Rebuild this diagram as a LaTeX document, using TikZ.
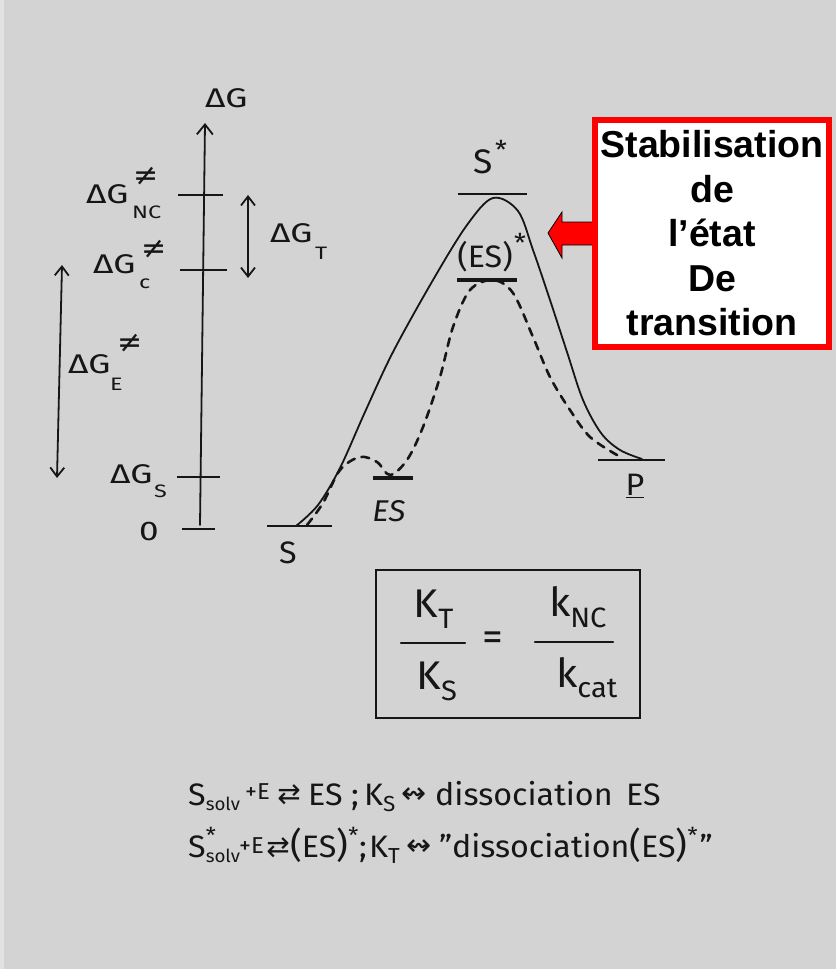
\documentclass[tikz,border=0pt]{standalone}
\usepackage{fontspec}
\setmainfont{Fira Sans}[FakeStretch=1.04]
\newfontfamily\widehand{Fira Sans}[FakeStretch=1.3]
\newfontfamily\symfont{DejaVu Sans}
\newfontfamily\arialfont{Liberation Sans}
\usetikzlibrary{arrows.meta}
\definecolor{bgc}{RGB}{211,211,211}
\definecolor{stripc}{RGB}{226,226,226}
\definecolor{ink}{RGB}{22,22,22}
\newcommand{\lowsub}[2][-5pt]{\raisebox{#1}{\fontsize{18}{18}\selectfont #2}}
\newcommand{\hstar}{\raisebox{14pt}{\fontsize{22}{22}\selectfont *}}
\newcommand{\bigpar}[1]{{\fontsize{35}{35}\selectfont #1}}
\begin{document}
\begin{tikzpicture}[x=1pt,y=-1pt,
  pen/.style={draw=ink, line width=1.8pt, line cap=round},
  lvl/.style={draw=ink, line width=1.6pt},
  thicklvl/.style={draw=ink, line width=3.2pt},
  dashpen/.style={draw=ink, line width=2.6pt, dash pattern=on 8pt off 7pt, line cap=round},
  axlab/.style={font=\widehand\fontsize{27}{30}\selectfont, inner sep=0pt, text=ink},
  axscr/.style={font=\widehand\fontsize{18}{20}\selectfont, inner sep=0pt, text=ink},
  neqs/.style={font=\symfont\fontsize{30}{30}\selectfont, inner sep=0pt, text=ink},
  hand/.style={font=\fontsize{31}{34}\selectfont, inner sep=0pt, text=ink},
  small/.style={font=\fontsize{23}{25}\selectfont, inner sep=0pt, text=ink},
  arr/.style={font=\symfont\fontsize{28}{28}\selectfont, inner sep=0pt, text=ink},
  barb/.style={-{Straight Barb[length=10pt,width=16pt,line width=1.8pt]}},
  dbarb/.style={{Straight Barb[length=9pt,width=14pt,line width=1.8pt]}-{Straight Barb[length=9pt,width=14pt,line width=1.8pt]}}
]
\useasboundingbox (0,0) rectangle (836,969);
\fill[bgc] (0,0) rectangle (836,969);
\fill[stripc] (0,0) rectangle (4,969);

% ---------- energy axis ----------
\coordinate (ax0) at (200,525);
\coordinate (axT) at (205,123);
\draw[pen, barb] (ax0) -- (axT);
\node[axlab, anchor=base west] (lG) at (205,107) {ΔG};

\draw[lvl] (178,195) -- (223,195);
\draw[lvl] (180,270) -- (227,270);
\draw[lvl] (177,477) -- (220,477);
\draw[lvl] (182,529) -- (215,529);

\node[axlab, anchor=base west] (lNC) at (86,203) {ΔG};
\node[neqs] (lNCa) at (146,176) {≠};
\node[axscr, anchor=base west] (lNCb) at (132,218) {NC};

\node[axlab, anchor=base west] (lC) at (93,273) {ΔG};
\node[neqs] (lCa) at (154,249) {≠};
\node[axscr, anchor=base west] (lCb) at (139,288) {c};

\node[axlab, anchor=base west] (lE) at (68,373) {ΔG};
\node[neqs] (lEa) at (130,343) {≠};
\node[axscr, anchor=base west] (lEb) at (110,390) {E};

\node[axlab, anchor=base west] (lS) at (110,483) {ΔG};
\node[axscr, anchor=base west] (lSb) at (154,497) {S};

\node[axlab, anchor=base west] (l0) at (139,540) {0};

\coordinate (eT) at (62,265);
\coordinate (eB) at (57,478);
\draw[pen, dbarb] (eT) -- (eB);
\coordinate (tT) at (248,195);
\coordinate (tB) at (248,278);
\draw[pen, dbarb] (tT) -- (tB);
\node[axlab, anchor=base west] (lT) at (270,242) {ΔG};
\node[axscr, anchor=base west] (lTb) at (315,259) {T};

% ---------- reaction profile ----------
\draw[lvl] (267,526) -- (332,526);
\node[hand] (nS) at (288,553) {S};
\draw[lvl] (458,194) -- (527,194);
\node[hand, font=\fontsize{34}{36}\selectfont] (nSs) at (483,162) {S};
\node[small, font=\fontsize{26}{26}\selectfont] (nSsa) at (501,150) {*};
\draw[thicklvl] (457,280) -- (517,280);
\node[hand] (nESs) at (485,257) {(ES)};
\node[small, font=\fontsize{26}{26}\selectfont] (nESsa) at (520,243) {*};
\draw[thicklvl] (373,478) -- (413,478);
\node[hand, font=\fontsize{30}{32}\selectfont\itshape] (nES) at (389,511) {ES};
\draw[lvl] (598,460) -- (665,460);
\node[hand] (nP) at (635,486) {\underline{P}};

\draw[pen] plot[smooth, tension=0.55] coordinates {(296,526) (318,505) (340,468) (365,412) (393,352) (433,280) (467,225) (493,198) (518,211) (533,250) (550,300) (567,352) (583,400) (601,433) (620,450) (642,459)};
\draw[dashpen] plot[smooth, tension=0.55] coordinates {(307,525) (323,503) (340,470) (360,457) (377,462) (390,475) (407,460) (423,427) (440,377) (453,327) (470,290) (493,280) (513,293) (533,337) (550,377) (570,410) (590,437) (617,455)};

% ---------- red arrow and box ----------
\draw[black, line width=0.8pt, fill=red] (548,233) -- (562,212) -- (562,222) -- (598,222) -- (598,245) -- (562,245) -- (562,258) -- cycle;
\node[draw=red, line width=6pt, fill=white, minimum width=234pt, minimum height=227pt, inner sep=0pt, align=center,
      font=\arialfont\bfseries\fontsize{37.5}{44.5}\selectfont] (stab) at (712,233.5)
      {Stabilisation\\de\\l’état\\De\\transition};

% ---------- formula box ----------
\node[draw=ink, line width=1.8pt, minimum width=264pt, minimum height=148pt] (fbox) at (508,644) {};
\node[hand, font=\fontsize{40}{42}\selectfont] (kT) at (434,609) {K\textsubscript{T}};
\draw[pen, line width=2.2pt] (401,643) -- (465,643);
\node[hand, font=\fontsize{40}{42}\selectfont] (kS) at (437,681) {K\textsubscript{S}};
\node[hand, font=\fontsize{40}{42}\selectfont] (eq) at (493,641) {=};
\node[hand, font=\fontsize{40}{42}\selectfont] (kNC) at (578,607) {k\textsubscript{NC}};
\draw[pen, line width=2.2pt] (535,642) -- (613,642);
\node[hand, font=\fontsize{40}{42}\selectfont] (kcat) at (587,678) {k\textsubscript{cat}};

% ---------- equilibria ----------
\node[hand, anchor=base west] (a1) at (188,805) {S\lowsub{solv}};
\node[small, anchor=base west] (a2) at (245,799) {+E};
\node[arr] (a3) at (289,795) {⇄};
\node[hand, anchor=base west] (a4) at (308,805) {ES};
\node[hand, anchor=base west] (a5) at (351,805) {;};
\node[hand, anchor=base west] (a6) at (364,805) {K\textsubscript{S}};
\node[arr, font=\symfont\fontsize{30}{30}\selectfont] (a7) at (414,796) {↭};
\node[hand, anchor=base west] (a8) at (435,805) {dissociation};
\node[hand, anchor=base west] (a9) at (626,805) {ES};

\node[hand, anchor=base west] (b1) at (188,857) {S\hstar\hspace{-10pt}\lowsub{solv}};
\node[small, anchor=base west] (b2) at (239,853) {+E};
\node[arr] (b3) at (278,848) {⇄};
\node[hand, anchor=base west] (b4) at (290,857) {\bigpar{(}ES\bigpar{)}\hstar};
\node[hand, anchor=base west] (b5) at (359,857) {;};
\node[hand, anchor=base west] (b6) at (369,857) {K\textsubscript{T}};
\node[arr, font=\symfont\fontsize{30}{30}\selectfont] (b7) at (419,848) {↭};
\node[hand, anchor=base west] (b8) at (439,857) {"dissociation\bigpar{(}ES\bigpar{)}\hstar\hspace{2pt}"};
\end{tikzpicture}
\end{document}
